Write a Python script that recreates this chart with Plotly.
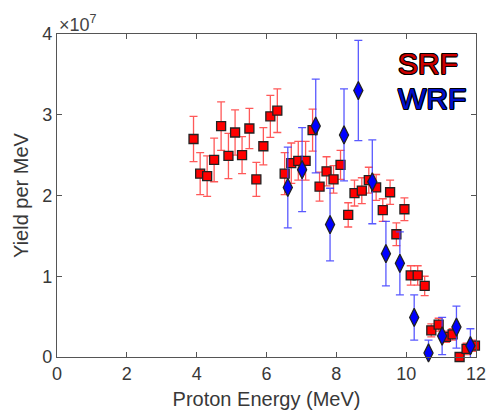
import plotly.graph_objects as go

SCALE = 1e7

srf_x = [3.91, 4.10, 4.30, 4.50, 4.70, 4.91, 5.10, 5.30, 5.51, 5.71, 5.91, 6.11, 6.31,
         6.52, 6.71, 6.91, 7.12, 7.32, 7.52, 7.72, 7.92, 8.12, 8.34, 8.52, 8.73, 8.93,
         9.14, 9.33, 9.54, 9.72, 9.95, 10.13, 10.33, 10.53, 10.72, 10.93, 11.14, 11.33,
         11.53, 11.73, 11.97]
srf_y = [2.70, 2.27, 2.24, 2.44, 2.86, 2.49, 2.78, 2.50, 2.83, 2.20, 2.61, 2.98, 3.05,
         2.27, 2.40, 2.43, 2.43, 2.81, 2.11, 2.30, 2.20, 2.38, 1.76, 2.03, 2.06, 2.19,
         2.10, 1.82, 2.04, 1.52, 1.83, 1.01, 1.01, 0.88, 0.33, 0.40, 0.25, 0.28,
         0.00, 0.10, 0.14]
srf_err = [0.28, 0.26, 0.25, 0.27, 0.30, 0.28, 0.28, 0.23, 0.25, 0.21, 0.23, 0.26, 0.27,
           0.26, 0.25, 0.24, 0.24, 0.26, 0.18, 0.18, 0.17, 0.18, 0.15, 0.16, 0.16, 0.16,
           0.16, 0.14, 0.15, 0.14, 0.14, 0.12, 0.12, 0.12, 0.08, 0.08, 0.07, 0.07,
           0.05, 0.07, 0.07]

wrf_x = [6.61, 7.02, 7.41, 7.82, 8.22, 8.63, 9.03, 9.42, 9.82, 10.23, 10.64, 11.03, 11.44, 11.84]
wrf_y = [2.10, 2.32, 2.86, 1.64, 2.75, 3.30, 2.17, 1.28, 1.16, 0.49, 0.05, 0.26, 0.37, 0.14]
wrf_err = [0.50, 0.52, 0.58, 0.45, 0.57, 0.62, 0.52, 0.40, 0.39, 0.28, 0.16, 0.23, 0.26, 0.21]

x_ticks = [0, 2, 4, 6, 8, 10, 12]
y_ticks = [0, 1, 2, 3, 4]

fig = go.Figure()
fig.add_trace(go.Scatter(
    x=srf_x, y=[v * SCALE for v in srf_y], mode="markers", name="SRF",
    error_y=dict(type="data", array=[e * SCALE for e in srf_err], color="rgba(255,60,60,0.85)",
                 thickness=1.3, width=4),
    marker=dict(symbol="square", size=9, color="#ff0000", line=dict(color="#222222", width=1.3)),
    cliponaxis=False,
))
fig.add_trace(go.Scatter(
    x=wrf_x, y=[v * SCALE for v in wrf_y], mode="markers", name="WRF",
    error_y=dict(type="data", array=[e * SCALE for e in wrf_err], color="rgba(60,60,255,0.85)",
                 thickness=1.3, width=4),
    marker=dict(symbol="diamond-tall", size=13, color="#0000ff", line=dict(color="#222222", width=1.3)),
    cliponaxis=False,
))

axis_color = "#555555"
L, R, T, B, W, H = 57, 17, 34, 61, 498, 419
fig.update_layout(
    width=W, height=H,
    margin=dict(l=L, r=R, t=T, b=B),
    paper_bgcolor="white", plot_bgcolor="white",
    showlegend=False,
    font=dict(family="Liberation Sans, Arial, sans-serif", color="#383838", size=18),
    xaxis=dict(range=[0, 12], tickvals=x_ticks, ticks="inside", ticklen=5, tickcolor=axis_color,
               showline=True, linecolor=axis_color, linewidth=1.2, mirror="ticks",
               showgrid=False, zeroline=False, tickfont=dict(size=18),
               title=dict(text="Proton Energy (MeV)", font=dict(size=20), standoff=9)),
    yaxis=dict(range=[0, 4 * SCALE], tickvals=[t * SCALE for t in y_ticks],
               ticktext=[str(t) for t in y_ticks], ticks="inside", ticklen=5, tickcolor=axis_color,
               showline=True, linecolor=axis_color, linewidth=1.2, mirror="ticks",
               showgrid=False, zeroline=False, tickfont=dict(size=18),
               title=dict(text="Yield per MeV", font=dict(size=20), standoff=8)),
)

fig.add_annotation(x=0, y=1, xref="paper", yref="paper", xanchor="left", yanchor="bottom",
                   text="×10<sup>7</sup>", showarrow=False, font=dict(size=18, color="#444444"), yshift=-3)


def px_to_paper(px, py):
    return (px - L) / (W - L - R), 1 - (py - T) / (H - T - B)


outline = ("1px 0 0 #000, -1px 0 0 #000, 0 1px 0 #000, 0 -1px 0 #000, "
           "0.7px 0.7px 0 #000, -0.7px -0.7px 0 #000, 0.7px -0.7px 0 #000, -0.7px 0.7px 0 #000")
for label, color, (px, py) in [("SRF", "#cc0000", (432, 64)), ("WRF", "#0010cc", (436, 99))]:
    ax_, ay_ = px_to_paper(px, py)
    fig.add_annotation(x=ax_, y=ay_, xref="paper", yref="paper", xanchor="center", yanchor="middle",
                       text=label, showarrow=False,
                       font=dict(size=30, color=color, shadow=outline))

fig.write_html("out.html")
